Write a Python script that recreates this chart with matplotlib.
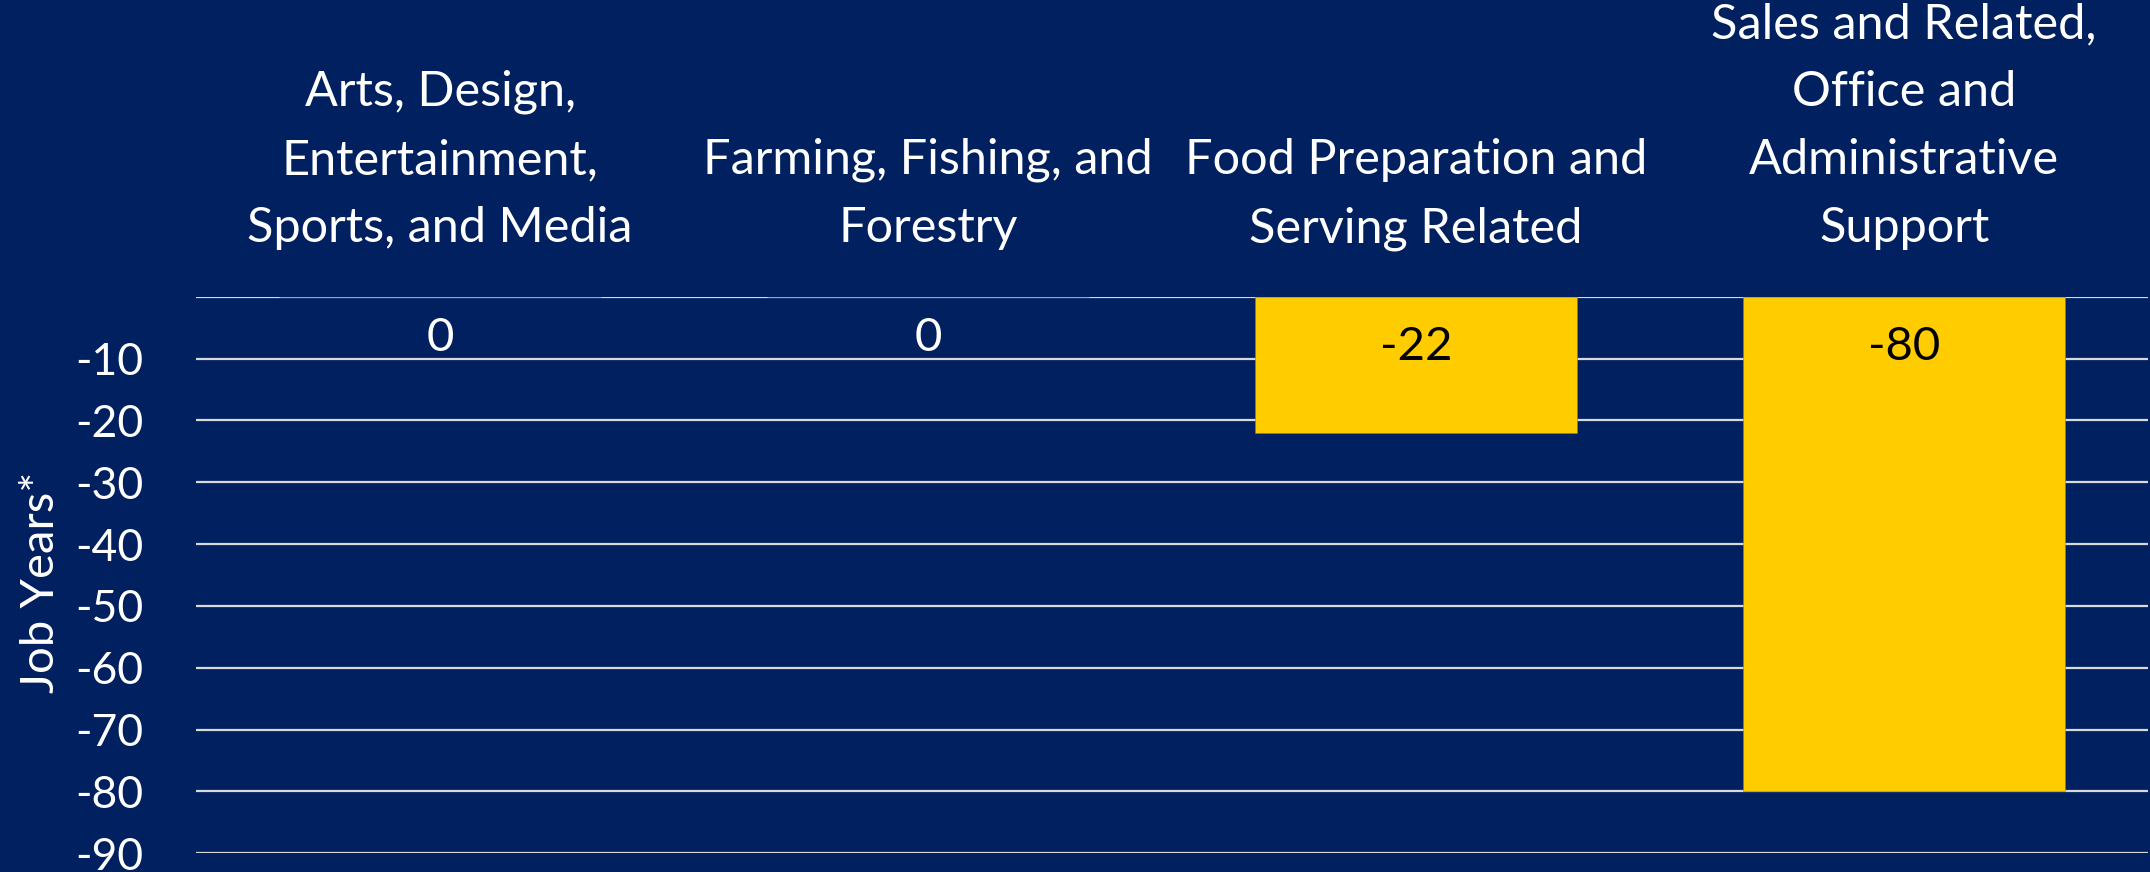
import matplotlib
matplotlib.use("Agg")
import matplotlib.pyplot as plt
import matplotlib.transforms as mtransforms

categorias = [
    "Arts, Design,\nEntertainment,\nSports, and Media",
    "Farming, Fishing, and\nForestry",
    "Food Preparation and\nServing Related",
    "Sales and Related,\nOffice and\nAdministrative\nSupport",
]
valores = [0, 0, -22, -80]
ticks_y = [-10, -20, -30, -40, -50, -60, -70, -80, -90]

fondo = "#002060"
amarillo = "#FFCC00"
gris = "#D9D9D9"

plt.rcParams["font.family"] = ["Lato", "DejaVu Sans"]

fig = plt.figure(figsize=(21.5, 8.72), dpi=100, facecolor=fondo)
ax = fig.add_axes([0.0912, 0.0214, 0.9079, 0.6383], facecolor=fondo)

x = range(len(categorias))
ax.bar(x, valores, width=0.66, color=amarillo, edgecolor="#7f7f5f", linewidth=0.4, zorder=3)

ax.set_xlim(-0.5, len(categorias) - 0.5)
ax.set_ylim(-90, 0)
ax.set_yticks(ticks_y)
ax.set_yticklabels([str(t) for t in ticks_y])
ax.set_xticks([])
ax.tick_params(axis="y", length=0, pad=38, labelsize=32, labelcolor="white")

for y in [0] + ticks_y:
    ax.axhline(y, color=gris, linewidth=1.6, zorder=2)

for lado in ax.spines.values():
    lado.set_visible(False)

# etiquetas de categoria arriba del grafico
trans = mtransforms.blended_transform_factory(ax.transData, fig.transFigure)
for i, cat in enumerate(categorias):
    ax.text(i, 1 - 242 / 872, cat, transform=trans, ha="center", va="baseline",
            multialignment="center", fontsize=35, color="white", linespacing=1.66)

# valores dentro de las barras
for i, v in enumerate(valores):
    if v == 0:
        ax.annotate(str(v), (i, 0), xytext=(0, -54), textcoords="offset pixels",
                    ha="center", va="baseline", fontsize=34, color="white", zorder=4)
    else:
        ax.annotate(str(v), (i, 0), xytext=(0, -63), textcoords="offset pixels",
                    ha="center", va="baseline", fontsize=34, color="black", zorder=4)

fig.text(41 / 2150, 1 - 582 / 872, "Job Years*", rotation=90, ha="center", va="center",
         fontsize=34, color="white")

fig.savefig("out.png", dpi=100, facecolor=fondo)
